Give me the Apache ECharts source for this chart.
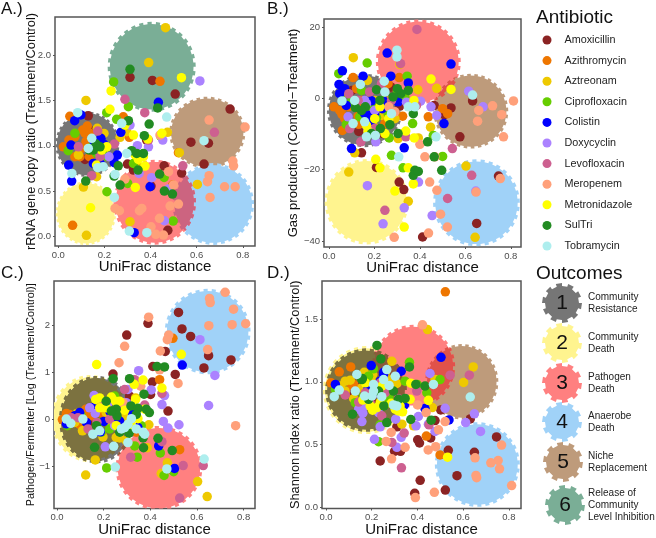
<!DOCTYPE html>
<html><head><meta charset="utf-8">
<style>html,body{margin:0;padding:0;background:#fff}#c{width:656px;height:538px}</style>
<script src="https://cdn.jsdelivr.net/npm/echarts@6/dist/echarts.min.js"></script>
</head><body><div id="c"></div>
<script>
const antibiotics=['Amoxicillin','Azithromycin','Aztreonam','Ciprofloxacin','Colistin','Doxycyclin','Levofloxacin','Meropenem','Metronidazole','SulTri','Tobramycin'];
const antibioticColors=['#8B2323','#EE7600','#EEC900','#66CD00','#0000FF','#AB82FF','#CD6090','#FFA07A','#FFFF00','#228B22','#AEEEEE'];
const outcomes=[['Community','Resistance'],['Community','Death'],['Pathogen','Death'],['Anaerobe','Death'],['Niche','Replacement'],['Release of','Community','Level Inhibition']];
const outcomeColors=['#767676','#FFF48F','#FF8080','#A0D2F8','#BE9B7B','#7AAE96'];

const A_Amoxicillin=[[.311,1.754],[.408,1.72],[.507,1.57],[.745,1.405],[.575,1.04],[.651,1.03],[.632,.80],[.475,.07],[.402,.558],[.535,.70],[.459,.78],[.30,.80],[.13,1.33],[.14,1.167],[.116,.851],[.326,.734],[.383,1.064]];
const A_Azithromycin=[[.441,1.71],[.062,.125],[.05,1.325],[.126,1.218],[.022,.99],[.046,1.064],[.106,1.174],[.094,.88],[.135,.88],[.282,1.32],[.308,1.094],[.521,.925],[.496,.569],[.12,1.046],[.072,1.10],[.116,1.138],[.101,.972],[.072,.88],[.137,1.138]];
const A_Aztreonam=[[.465,2.30],[.392,1.916],[.12,1.50],[.109,.547],[.122,.015],[.311,.165],[.603,.576],[.473,1.149],[.268,1.094],[.169,1.193],[.198,1.137],[.087,.9],[.166,.66],[.294,1.167],[.525,.925],[.343,.789],[.195,.936],[.297,1.156]];
const A_Ciprofloxacin=[[.24,1.703],[.21,1.365],[.253,1.292],[.304,1.431],[.072,1.138],[.043,.947],[.203,.888],[.211,.495],[.498,.172],[.459,.653],[.444,1.108],[.301,.587],[.145,.99],[.166,.917],[.326,.807]];
const A_Colistin=[[.071,1.277],[.098,1.34],[.434,1.479],[.045,.789],[.058,.613],[.055,1.009],[.152,.807],[.185,1.083],[.198,1.017],[.256,.899],[.243,.815],[.271,1.149],[.329,.044],[.398,.55],[.152,1.064],[.181,.807]];
const A_Doxycyclin=[[.614,1.714],[.343,1.002],[.391,.99],[.453,1.064],[.405,.65],[.478,.525],[.46,.176],[.311,1.229],[.22,.88],[.35,.697],[.181,.917]];
const A_Levofloxacin=[[.289,1.512],[.375,1.365],[.677,1.149],[.54,.78],[.087,.99],[.171,1.163],[.145,.672],[.243,1.02],[.181,.88],[.391,1.064],[.166,.954]];
const A_Meropenem=[[.81,1.207],[.757,.833],[.76,.78],[.654,1.284],[.654,.672],[.647,.606],[.658,.433],[.721,.55],[.767,.55],[.441,1.119],[.478,.716],[.289,.635],[.265,.286],[.362,.312],[.352,.286],[.485,.338],[.521,.36],[.439,.202],[.402,.11],[.423,.026],[.456,.018],[.5,.57],[.246,.312]];
const A_Metronidazole=[[.534,1.75],[.229,1.604],[.224,1.402],[.14,.319],[.334,.543],[.326,1.119],[.289,1.229],[.166,.789],[.388,1.075],[.369,.881],[.376,.778],[.347,.851],[.188,.954],[.449,1.138],[.21,.99],[.333,.9]];
const A_SulTri=[[.311,1.842],[.431,1.417],[.394,1.24],[.304,1.277],[.373,1.112],[.369,.917],[.318,.947],[.346,.734],[.268,.569],[.119,.613],[.242,.668],[.439,.69],[.46,.503],[.495,.47],[.164,1.02],[.135,.954],[.26,.78],[.181,.99],[.152,.954],[.34,.917]];
const A_Tobramycin=[[.084,1.365],[.47,1.317],[.632,1.057],[.246,.686],[.243,.433],[.308,.062],[.384,.044],[.059,.697],[.171,.76],[.297,.917],[.145,1.083],[.275,1.248],[.13,.972],[.195,.77]];

const B_Amoxicillin=[[.632,-.75],[.576,-10.8],[.746,-21.8],[.65,-35.1],[.412,-38.9],[.309,-23.5],[.329,-25.6],[.209,-19.4],[.143,-15.3],[.537,-2.7],[.507,-4.6],[.312,-2.1],[.131,-9.3],[.238,-9.9],[.101,2.2],[.272,3.2],[.463,-2]];
const B_Azithromycin=[[.022,-2.4],[.047,-3.4],[.057,-4.5],[.059,-9],[.106,5.8],[.121,2.7],[.128,-5],[.131,-7.3],[.309,5.8],[.324,-5],[.437,-5.2],[.5,-2.9],[.522,-4.3],[.157,-2.2],[.224,-4.8],[.084,-2.4],[.143,-.6],[.26,4.1],[.069,-5.7],[.246,-7.1]];
const B_Aztreonam=[[.107,11.4],[.087,-20.7],[.349,-28.9],[.603,-19],[.643,-39],[.391,2.4],[.474,2.8],[.447,-8.1],[.312,9.5],[.169,5],[.268,-.6],[.29,-5.7],[.304,-11.3],[.194,-7.6],[.393,-11.1],[.113,-15.3],[.201,-.6],[.326,-9.9],[.231,-4.8]];
const B_Ciprofloxacin=[[.168,9.9],[.043,6.9],[.051,1.1],[.076,-7.3],[.275,-16],[.326,-19.5],[.344,6.2],[.301,2.2],[.209,-5.4],[.265,-11.1],[.5,-16.3],[.459,-10.4],[.368,-7.1],[.231,-.6],[.135,-5.2],[.143,2.2],[.101,-.6],[.187,-2],[.26,-4.3],[.334,.4]];
const B_Colistin=[[.256,12.7],[.537,9.6],[.059,7.7],[.15,6.2],[.044,3.9],[.069,2.7],[.272,6.2],[.349,4.3],[.506,-7.1],[.099,-14.1],[.331,-13.9],[.172,-4.8],[.201,-4.3],[.187,-.7],[.304,-1],[.076,-2],[.234,-2.9],[.047,1.3],[.157,-4.3],[.187,-6.2],[.246,-1]];
const B_Doxycyclin=[[.169,-24.5],[.238,-35.2],[.331,-30.7],[.394,-23.5],[.454,-32.9],[.615,2],[.678,-2.4],[.206,-12.2],[.403,-.8],[.449,-2.4],[.474,-4.8],[.341,-1.1],[.165,-1.5],[.646,-26],[.084,-5.2],[.201,-3.4],[.157,-.6]];
const B_Levofloxacin=[[.387,19.3],[.315,9.7],[.246,-31.4],[.522,-28.1],[.628,-21.6],[.543,-14.1],[.14,-12.2],[.087,1.3],[.179,1.8],[.091,-8.5],[.338,-10.8],[.231,4.1],[.385,-2],[.128,-.6],[.201,-8.5],[.275,-.6]];
const B_Meropenem=[[.812,-.75],[.72,-2.1],[.76,-4.6],[.659,-3.4],[.654,-6.4],[.768,-10.8],[.754,-22.5],[.647,-26.3],[.475,-25.8],[.443,-23.5],[.491,-32.5],[.521,-36.1],[.438,-37.8],[.287,-39],[.422,-16.4],[.4,-12.9],[.466,-16.4],[.263,-2.4],[.29,-3.8],[.172,-9]];
const B_Metronidazole=[[.449,5.4],[.537,2.5],[.206,-17.1],[.224,-19.5],[.349,-19.5],[.371,-24],[.29,-26],[.331,-36.1],[.338,-9.2],[.374,-.6],[.165,-7.6],[.201,-5.7],[.263,-5.7],[.172,-9.4],[.375,-11.1],[.224,-2.4],[.246,-9.9]];
const B_SulTri=[[.349,2.2],[.316,1.3],[.301,2.7],[.371,-4.3],[.304,-9.9],[.434,-12.2],[.463,-16.4],[.496,-20.2],[.378,-20.2],[.371,-21.6],[.393,-20.5],[.226,-8.5],[.268,-7.4],[.116,-2.6],[.16,-2.4],[.209,2.4],[.224,-.6],[.143,-3.4],[.187,-9.9],[.282,.4]];
const B_Tobramycin=[[.299,13.5],[.299,11.6],[.057,-.75],[.138,3.9],[.243,4.8],[.632,.9],[.471,-10.8],[.307,-16.4],[.165,-10.8],[.378,-2.4],[.246,1.8],[.106,-7.1],[.204,-10.4],[.113,-.6],[.157,-6.6],[.275,-4.3],[.349,-2.4]];

const C_Amoxicillin=[[.521,2.28],[.39,2.05],[.299,1.8],[.536,1.93],[.573,1.77],[.65,1.36],[.746,1.27],[.63,1.1],[.464,1.45],[.24,.97],[.411,1.13],[.507,.96],[.476,.18],[.311,.5],[.401,.535],[.409,.8],[.14,-.11]];
const C_Azithromycin=[[.497,1.73],[.44,.85],[.526,-.64],[.054,.11],[.023,0],[.123,.22],[.097,-.1],[.129,.09],[.183,.15],[.34,-.27],[.211,.04],[.04,.13],[.111,-.13],[.147,.08],[.061,-.06]];
const C_Aztreonam=[[.123,-1.18],[.164,-.86],[.644,-1.64],[.603,-1.32],[.473,-.92],[.447,-1.15],[.387,-.6],[.269,-.39],[.297,-.45],[.197,-.37],[.109,-.24],[.086,.13],[.211,.15],[.394,-.11],[.337,.46],[.076,-.06],[.233,-.06],[.254,-.38],[.29,.04]];
const C_Ciprofloxacin=[[.213,-1.03],[.459,-1.19],[.5,-1.11],[.443,-.71],[.344,-.8],[.247,.5],[.044,-.13],[.19,-.27],[.254,.22],[.333,-.56],[.104,.08],[.24,.46],[.226,-.2],[.183,-.06],[.361,-.13]];
const C_Colistin=[[.537,1.16],[.504,-1.04],[.436,-.56],[.347,-.17],[.243,.02],[.186,-.26],[.201,-.04],[.04,-.09],[.097,.15],[.151,.25],[.326,.11],[.269,-.03],[.076,.08],[.169,.22],[.126,-.06],[.226,.18]];
const C_Doxycyclin=[[.35,1.04],[.677,.94],[.65,.3],[.613,1.7],[.461,.51],[.45,.32],[.456,-.04],[.476,-.18],[.523,-.11],[.404,.63],[.159,.51],[.207,-.58],[.164,.13],[.219,.35],[.304,.64],[.247,-.13],[.297,.36],[.14,.25]];
const C_Levofloxacin=[[.526,-1.67],[.627,-.98],[.541,-.98],[.45,-.47],[.316,-.8],[.29,.64],[.333,.85],[.45,.56],[.09,.04],[.171,-.06],[.197,.32],[.376,.31],[.133,-.2],[.061,.04],[.226,.01],[.261,.29]];
const C_Meropenem=[[.721,2.71],[.654,2.58],[.657,2.49],[.757,2.35],[.809,2.04],[.751,2.02],[.651,2],[.393,2.18],[.479,1.8],[.473,1.7],[.29,1.56],[.266,1.21],[.443,1.46],[.44,1.06],[.646,1.49],[.519,.77],[.766,-.13],[.359,.71],[.283,.36]];
const C_Metronidazole=[[.17,1.17],[.533,1.39],[.369,.84],[.331,.75],[.45,.67],[.166,.43],[.233,.48],[.251,.39],[.29,.2],[.337,.43],[.376,.22],[.347,.02],[.319,-.13],[.211,.25],[.183,.46],[.269,.39],[.254,-.13],[.183,.25]];
const C_SulTri=[[.241,.87],[.311,.87],[.461,1.12],[.429,1.13],[.373,.54],[.396,.15],[.317,.29],[.347,.24],[.257,.08],[.309,-.29],[.369,-.39],[.371,-.6],[.161,-.59],[.433,-.4],[.494,-.66],[.254,.22],[.211,.39],[.233,.18],[.169,-.13],[.34,.11],[.383,.22],[.269,-.27]];
const C_Tobramycin=[[.631,-.84],[.471,-1.05],[.25,-1.01],[.243,-.57],[.154,-.31],[.059,-.08],[.29,-.17],[.319,.02],[.304,-.1],[.376,-.31],[.183,-.24],[.304,-.49],[.04,.01],[.111,.01],[.276,-.2],[.34,-.2],[.369,-.27]];

const D_Amoxicillin=[[.237,.37],[.3,.447],[.326,.447],[.31,.642],[.401,.539],[.409,.513],[.412,.216],[.388,.113],[.522,.139],[.573,.253],[.535,.455],[.649,.439],[.746,.561],[.631,.705],[.502,.776],[.477,.692],[.458,.553],[.14,.955],[.116,.913],[.208,.834]];
const D_Azithromycin=[[.522,1.716],[.058,1.079],[.108,1.118],[.022,.992],[.121,.979],[.499,.418],[.439,.568],[.084,.9],[.172,.939],[.113,.971]];
const D_Aztreonam=[[.444,1.416],[.644,1.118],[.602,.995],[.31,.987],[.288,1.163],[.167,1.076],[.084,1.005],[.106,1.013],[.205,1.058],[.259,1.071],[.121,.866],[.477,1.018],[.465,.795],[.332,.663],[.383,.65],[.157,.953],[.063,.966],[.23,.939],[.288,1.018],[.084,.926],[.2,1.005]];
const D_Ciprofloxacin=[[.499,1.018],[.23,.524],[.237,.658],[.365,1.155],[.128,.834],[.208,1.103],[.276,.882],[.399,.979],[.441,.913],[.041,.939],[.186,1.045],[.273,.834],[.164,.887],[.346,1.005]];
const D_Colistin=[[.503,1.195],[.538,.697],[.041,.979],[.198,1.129],[.237,1.005],[.183,.939],[.198,.971],[.252,1.076],[.329,1.084],[.343,.816],[.433,.787],[.252,1.058]];
const D_Doxycyclin=[[.676,.605],[.649,.745],[.611,.676],[.521,.789],[.455,1.066],[.212,.542],[.237,.642],[.157,.684],[.161,.75],[.329,.558],[.31,.479],[.394,.65],[.404,.724],[.477,.605],[.305,.703],[.223,.913],[.448,.663],[.172,.808],[.143,.782],[.23,.755]];
const D_Levofloxacin=[[.543,1.053],[.627,1.053],[.33,.316],[.288,.518],[.342,.592],[.244,.729],[.451,.658],[.084,.895],[.143,.839],[.317,.866],[.397,.926],[.193,.834],[.172,.913],[.259,.913],[.237,.992]];
const D_Meropenem=[[.422,1.453],[.768,.497],[.753,.374],[.721,.355],[.759,.308],[.812,.174],[.656,.255],[.659,.237],[.652,.395],[.474,.121],[.391,.079],[.287,.387],[.263,.526],[.285,.597],[.346,.479],[.447,.458],[.48,.484],[.521,.684],[.401,.816],[.438,.755],[.492,.618]];
const D_Metronidazole=[[.532,.4],[.371,.989],[.161,.855],[.204,.774],[.223,.795],[.285,.829],[.317,.768],[.335,.761],[.368,.861],[.448,.853],[.172,.992],[.244,.966],[.193,.808],[.303,.782],[.324,.808],[.237,.834]];
const D_SulTri=[[.223,1.289],[.24,1.182],[.365,1.118],[.253,.808],[.266,.676],[.116,.742],[.159,1.026],[.317,.861],[.346,.868],[.371,.7],[.433,.966],[.393,.979],[.46,.695],[.157,1.018],[.23,.926],[.295,.926],[.186,.861]];
const D_Tobramycin=[[.631,.879],[.036,.882],[.058,.934],[.135,1.058],[.47,.979],[.244,.882],[.276,.971],[.295,.816],[.303,1.045],[.208,.926],[.169,.887],[.266,1.097],[.208,.979],[.128,.926],[.252,1.018],[.201,.887],[.31,.808]];

// outcome regions: centre x, centre y, radius x, radius y, outcome number
const A_regions=[[.405,1.87,.191,.495,6],[.646,1.145,.165,.396,5],[.126,1.017,.139,.36,1],[.12,.258,.131,.35,2],[.672,.36,.177,.45,4],[.418,.379,.179,.468,3]];
const B_regions=[[.157,-3.4,.166,10.3,1],[.393,10.2,.187,11.9,3],[.624,-3.6,.165,10.5,5],[.166,-29,.185,12,2],[.649,-29.3,.191,12.2,4]];
const C_regions=[[.143,.02,.168,.93,2],[.171,0,.162,.93,1],[.437,-1.035,.186,.9,3],[.646,1.873,.184,.91,4]];
const D_regions=[[.176,.934,.19,.35,2],[.175,.934,.178,.33,1],[.594,1,.16,.3,5],[.383,1.124,.182,.33,3],[.662,.342,.186,.337,4]];
// overlaps of two regions (indexes into the panel's region list) with their blended colour
const A_overlaps=[[4,5,'#CC6480']];
const B_overlaps=[[1,2,'#E0524A'],[0,1,'#8B5A4A']];
const C_overlaps=[[0,1,'#7C7240'],[1,2,'#8B5A3A']];
const D_overlaps=[[0,1,'#7C7240'],[1,3,'#8B5A3A'],[2,3,'#E0524A']];

const series_A=[A_Amoxicillin,A_Azithromycin,A_Aztreonam,A_Ciprofloxacin,A_Colistin,A_Doxycyclin,A_Levofloxacin,A_Meropenem,A_Metronidazole,A_SulTri,A_Tobramycin];
const series_B=[B_Amoxicillin,B_Azithromycin,B_Aztreonam,B_Ciprofloxacin,B_Colistin,B_Doxycyclin,B_Levofloxacin,B_Meropenem,B_Metronidazole,B_SulTri,B_Tobramycin];
const series_C=[C_Amoxicillin,C_Azithromycin,C_Aztreonam,C_Ciprofloxacin,C_Colistin,C_Doxycyclin,C_Levofloxacin,C_Meropenem,C_Metronidazole,C_SulTri,C_Tobramycin];
const series_D=[D_Amoxicillin,D_Azithromycin,D_Aztreonam,D_Ciprofloxacin,D_Colistin,D_Doxycyclin,D_Levofloxacin,D_Meropenem,D_Metronidazole,D_SulTri,D_Tobramycin];

const xTicks=[0,.2,.4,.6,.8];
const panels=[
 {tag:'A.)',tagPos:[1,10],grid:{left:55,top:17,width:200,height:229},xr:[-.0143,.853],yr:[-.102,2.418],yTicks:[0,.5,1,1.5,2],yName:'rRNA gene copy ratio (Treatment/Control)',yFs:12.8,gap:17.5,data:series_A,reg:A_regions,ov:A_overlaps},
 {tag:'B.)',tagPos:[267,10],grid:{left:324,top:19,width:197,height:228},xr:[-.022,.845],yr:[-41.7,22.24],yTicks:[-40,-20,0,20],yName:'Gas production (Control\u2212Treatment)',yFs:13,gap:24.5,data:series_B,reg:B_regions,ov:B_overlaps},
 {tag:'C.)',tagPos:[1,274],grid:{left:54,top:281,width:201,height:229},xr:[-.0129,.849],yr:[-1.893,2.95],yTicks:[-1,0,1,2],yName:'Pathogen/Fermenter [Log (Treatment/Control)]',yFs:10.8,gap:17,data:series_C,reg:C_regions,ov:C_overlaps},
 {tag:'D.)',tagPos:[267,274],grid:{left:322,top:281,width:199,height:229},xr:[-.0175,.853],yr:[-.008,1.802],yTicks:[0,.5,1,1.5],yName:'Shannon index ratio (Treatment/Control)',yFs:12.8,gap:20.5,data:series_D,reg:D_regions,ov:D_overlaps}
];

function unitGear(n,inner){const p=[];for(let i=0;i<n;i++){const s=2*Math.PI/n;const a=i*s;
 [[a,1],[a+s*.5,1],[a+s*.5,inner],[a+s,inner]].forEach(q=>p.push([Math.cos(q[0])*q[1],Math.sin(q[0])*q[1]]));}return p;}
const smallTeeth=unitGear(32,.95);
function regionPoints(api,r){return smallTeeth.map(u=>api.coord([r[0]+u[0]*r[2],r[1]+u[1]*r[3]]));}

const grids=[],xAxes=[],yAxes=[],series=[],graphics=[];
panels.forEach((p,i)=>{
 grids.push(Object.assign({show:true,borderColor:'#555',borderWidth:1.5,backgroundColor:'#fff',containLabel:false},p.grid));
 xAxes.push({gridIndex:i,type:'value',min:p.xr[0],max:p.xr[1],splitLine:{show:false},axisLine:{show:false,onZero:false},
  axisTick:{show:true,length:2,lineStyle:{color:'#555'},customValues:xTicks},
  axisLabel:{color:'#4d4d4d',fontSize:9.5,fontFamily:'Liberation Sans',margin:4,customValues:xTicks,formatter:v=>v.toFixed(1)},
  name:'UniFrac distance',nameLocation:'middle',nameGap:13.5,nameMoveOverlap:false,nameTextStyle:{color:'#111',fontSize:15,fontFamily:'Liberation Sans'}});
 yAxes.push({gridIndex:i,type:'value',min:p.yr[0],max:p.yr[1],splitLine:{show:false},axisLine:{show:false,onZero:false},
  axisTick:{show:true,length:2,lineStyle:{color:'#555'},customValues:p.yTicks},
  axisLabel:{color:'#4d4d4d',fontSize:9.5,fontFamily:'Liberation Sans',margin:4,customValues:p.yTicks,
   formatter:v=>{const t=i===1?String(v):(i===2?String(v):v.toFixed(1));return t.replace('-','\u2212');}},
  name:p.yName,nameLocation:'middle',nameGap:p.gap,nameMoveOverlap:false,nameTextStyle:{color:'#111',fontSize:p.yFs,fontFamily:'Liberation Sans'}});
 series.push({type:'custom',name:'regions'+i,xAxisIndex:i,yAxisIndex:i,coordinateSystem:'cartesian2d',clip:true,silent:true,z:1,
  data:p.reg,encode:{x:0,y:1},
  renderItem:(params,api)=>{const r=p.reg[params.dataIndex];return{type:'polygon',shape:{points:regionPoints(api,r)},style:{fill:outcomeColors[r[4]-1]}};}});
 series.push({type:'custom',name:'overlaps'+i,xAxisIndex:i,yAxisIndex:i,coordinateSystem:'cartesian2d',clip:true,silent:true,z:2,
  data:p.ov.map(o=>[p.reg[o[0]][0],p.reg[o[0]][1]]),encode:{x:0,y:1},
  renderItem:(params,api)=>{const o=p.ov[params.dataIndex];
   return{type:'polygon',shape:{points:regionPoints(api,p.reg[o[0]])},style:{fill:o[2]},clipPath:{type:'polygon',shape:{points:regionPoints(api,p.reg[o[1]])}}};}});
 p.data.forEach((d,k)=>series.push({type:'scatter',name:antibiotics[k],xAxisIndex:i,yAxisIndex:i,data:d,symbolSize:9.5,z:3,
  itemStyle:{color:antibioticColors[k],opacity:1}}));
 graphics.push({type:'text',left:p.tagPos[0],top:p.tagPos[1]-9,style:{text:p.tag,fontSize:17,fontFamily:'Liberation Sans',fill:'#111'}});
});

graphics.push({type:'text',left:536,top:8,style:{text:'Antibiotic',fontSize:19,fontFamily:'Liberation Sans',fill:'#111'}});
graphics.push({type:'text',left:536,top:264,style:{text:'Outcomes',fontSize:19,fontFamily:'Liberation Sans',fill:'#111'}});
const gearCentres=[[562,303],[562,343],[562,383],[562,422],[563,462],[565,505]];
const bigTeeth=unitGear(10,.85);
outcomes.forEach((lines,i)=>{
 const c=gearCentres[i];
 graphics.push({type:'polygon',shape:{points:bigTeeth.map(u=>[c[0]+u[0]*20,c[1]+u[1]*20])},style:{fill:outcomeColors[i]}});
 graphics.push({type:'text',x:c[0],y:c[1],style:{text:String(i+1),fontSize:21,fontFamily:'Liberation Sans',fill:'#111',align:'center',verticalAlign:'middle'}});
 lines.forEach((t,j)=>graphics.push({type:'text',x:588,y:c[1]+(j-(lines.length-1)/2)*12,style:{text:t,fontSize:10,fontFamily:'Liberation Sans',fill:'#222',verticalAlign:'middle'}}));
});

const chart=echarts.init(document.getElementById('c'),null,{renderer:'canvas'});
chart.setOption({animation:false,grid:grids,xAxis:xAxes,yAxis:yAxes,series:series,graphic:graphics,tooltip:{show:false},
 legend:{show:true,left:537.5,top:29,orient:'vertical',data:antibiotics,icon:'circle',itemWidth:25,itemHeight:9,itemGap:8.6,selectedMode:false,
  textStyle:{fontSize:10.8,lineHeight:12,color:'#222',fontFamily:'Liberation Sans'}}});
</script></body></html>
